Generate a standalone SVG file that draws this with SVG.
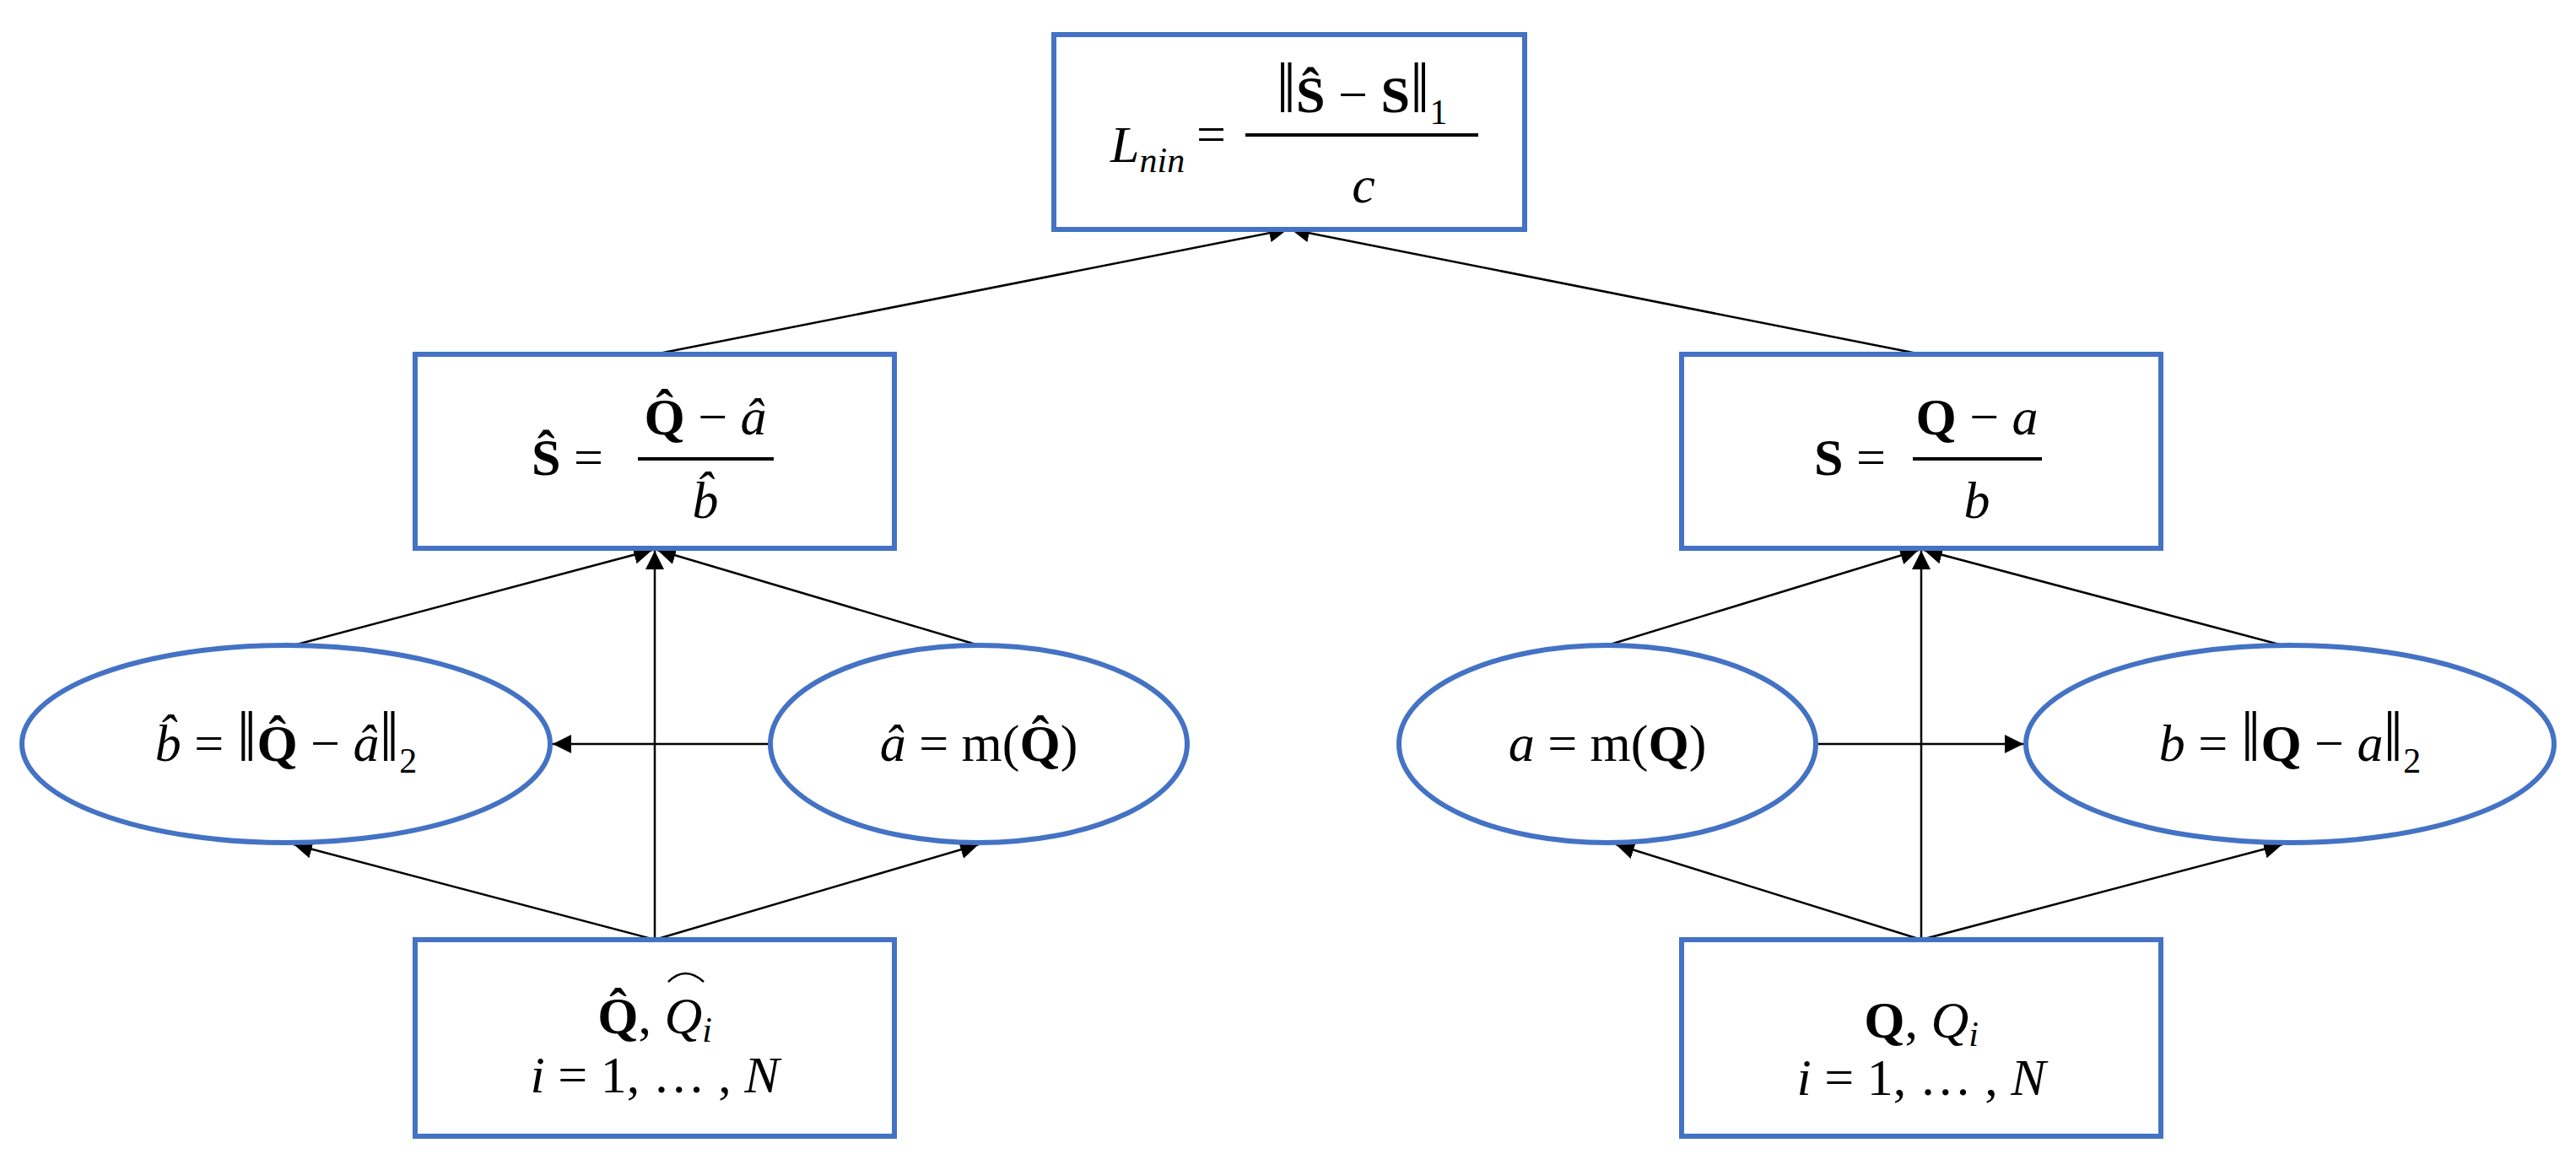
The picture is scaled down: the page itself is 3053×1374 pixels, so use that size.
<svg xmlns="http://www.w3.org/2000/svg" width="3053" height="1374" viewBox="0 0 3053 1374">
<style>
.n{fill:#fff;stroke:#4472C4;stroke-width:6}
.t{font-family:"Liberation Serif",serif;font-size:62px;fill:#000}
.i{font-style:italic}
.b{font-weight:bold}
.nb{font-size:84px}
.c line{stroke:#000;stroke-width:2.5}
</style>
<defs><marker id="m" viewBox="0 0 10 10" refX="10" refY="5" markerWidth="22" markerHeight="22" markerUnits="userSpaceOnUse" orient="auto"><path d="M0,0L10,5L0,10z" fill="#000"/></marker></defs>
<rect width="3053" height="1374" fill="#fff"/>
<g class="c">
<line x1="776" y1="420" x2="1526" y2="272" marker-end="url(#m)"/>
<line x1="2277" y1="420" x2="1530" y2="272" marker-end="url(#m)"/>
<line x1="348" y1="765" x2="773" y2="652" marker-end="url(#m)"/>
<line x1="1160" y1="765" x2="779" y2="652" marker-end="url(#m)"/>
<line x1="776" y1="1114" x2="776" y2="653" marker-end="url(#m)"/>
<line x1="913" y1="882" x2="655" y2="882" marker-end="url(#m)"/>
<line x1="776" y1="1114" x2="348" y2="1001" marker-end="url(#m)"/>
<line x1="776" y1="1114" x2="1160" y2="1001" marker-end="url(#m)"/>
<line x1="1905" y1="765" x2="2274" y2="652" marker-end="url(#m)"/>
<line x1="2705" y1="765" x2="2280" y2="652" marker-end="url(#m)"/>
<line x1="2277" y1="1114" x2="2277" y2="653" marker-end="url(#m)"/>
<line x1="2151" y1="882" x2="2398" y2="882" marker-end="url(#m)"/>
<line x1="2277" y1="1114" x2="1915" y2="1001" marker-end="url(#m)"/>
<line x1="2277" y1="1114" x2="2705" y2="1001" marker-end="url(#m)"/>
</g>
<g id="loss">
<rect class="n" x="1249" y="41" width="558" height="231"/>
<text class="t i" x="1316" y="192">L<tspan font-size="42" dy="12">nin</tspan></text>
<text class="t" x="1418" y="180">=</text>
<line x1="1476" y1="160" x2="1752" y2="160" stroke="#000" stroke-width="4"/>
<text class="t" x="1614" y="133" text-anchor="middle"><tspan class="nb">‖</tspan><tspan class="b">Ŝ</tspan> − <tspan class="b">S</tspan><tspan class="nb">‖</tspan><tspan font-size="42" dy="14">1</tspan></text>
<text class="t i" x="1616" y="240" text-anchor="middle">c</text>
</g>
<g id="shat">
<rect class="n" x="492" y="420" width="568" height="230"/>
<text class="t" x="630" y="563"><tspan class="b">Ŝ</tspan> =</text>
<line x1="756" y1="544" x2="917" y2="544" stroke="#000" stroke-width="4"/>
<text class="t" x="836" y="515" text-anchor="middle"><tspan class="b">Q̂</tspan> − <tspan class="i">â</tspan></text>
<text class="t i" x="836" y="614" text-anchor="middle">b̂</text>
</g>
<g id="s">
<rect class="n" x="1993" y="420" width="568" height="230"/>
<text class="t" x="2150" y="563"><tspan class="b">S</tspan> =</text>
<line x1="2267" y1="544" x2="2420" y2="544" stroke="#000" stroke-width="4"/>
<text class="t" x="2343" y="515" text-anchor="middle"><tspan class="b">Q</tspan> − <tspan class="i">a</tspan></text>
<text class="t i" x="2343" y="614" text-anchor="middle">b</text>
</g>
<g id="bhat">
<ellipse class="n" cx="339" cy="882" rx="313" ry="117"/>
<text class="t" x="339" y="902" text-anchor="middle"><tspan class="i">b̂</tspan> = <tspan class="nb">‖</tspan><tspan class="b">Q̂</tspan> − <tspan class="i">â</tspan><tspan class="nb">‖</tspan><tspan font-size="42" dy="14">2</tspan></text>
</g>
<g id="ahat">
<ellipse class="n" cx="1160" cy="882" rx="247" ry="117"/>
<text class="t" x="1160" y="902" text-anchor="middle"><tspan class="i">â</tspan> = m(<tspan class="b">Q̂</tspan>)</text>
</g>
<g id="a">
<ellipse class="n" cx="1905" cy="882" rx="247" ry="117"/>
<text class="t" x="1905" y="902" text-anchor="middle"><tspan class="i">a</tspan> = m(<tspan class="b">Q</tspan>)</text>
</g>
<g id="b">
<ellipse class="n" cx="2714" cy="882" rx="313" ry="117"/>
<text class="t" x="2714" y="902" text-anchor="middle"><tspan class="i">b</tspan> = <tspan class="nb">‖</tspan><tspan class="b">Q</tspan> − <tspan class="i">a</tspan><tspan class="nb">‖</tspan><tspan font-size="42" dy="14">2</tspan></text>
</g>
<g id="inhat">
<rect class="n" x="492" y="1114" width="568" height="233"/>
<text class="t" x="776" y="1225" text-anchor="middle"><tspan class="b">Q̂</tspan>, <tspan class="i">Q</tspan><tspan class="i" font-size="42" dy="10">i</tspan></text>
<path d="M792,1164 Q812,1144 834,1164" fill="none" stroke="#000" stroke-width="2.5"/>
<text class="t" x="776" y="1295" text-anchor="middle"><tspan class="i">i</tspan> = 1, … , <tspan class="i">N</tspan></text>
</g>
<g id="in">
<rect class="n" x="1993" y="1114" width="568" height="233"/>
<text class="t" x="2277" y="1230" text-anchor="middle"><tspan class="b">Q</tspan>, <tspan class="i">Q</tspan><tspan class="i" font-size="42" dy="10">i</tspan></text>
<text class="t" x="2277" y="1298" text-anchor="middle"><tspan class="i">i</tspan> = 1, … , <tspan class="i">N</tspan></text>
</g>
</svg>
